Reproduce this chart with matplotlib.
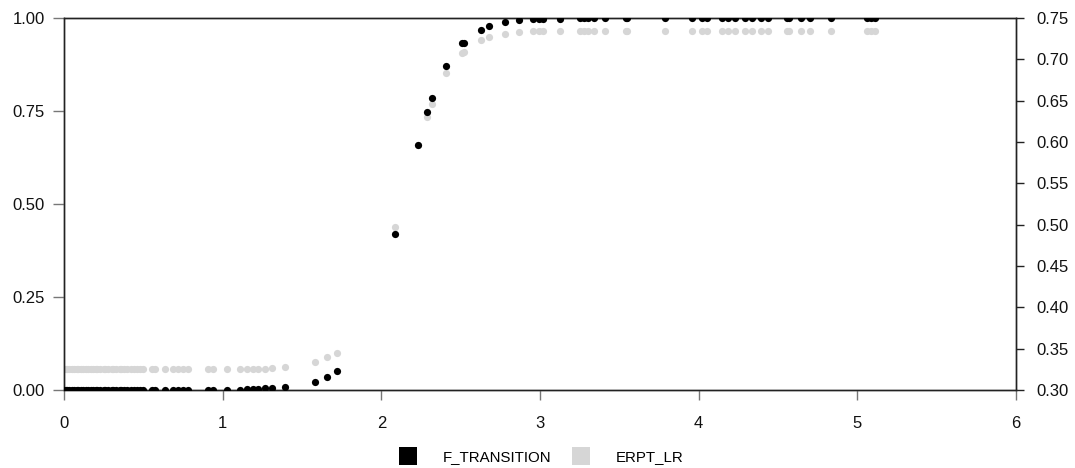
import matplotlib.pyplot as plt
from matplotlib.lines import Line2D

plt.rcParams['font.family'] = ['Liberation Sans', 'DejaVu Sans']

# threshold variable (x) and the two series
x_low = [
    0.00, 0.01, 0.02, 0.03, 0.05, 0.06, 0.08, 0.09, 0.11, 0.12,
    0.14, 0.15, 0.17, 0.18, 0.20, 0.21, 0.23, 0.25, 0.26, 0.28,
    0.30, 0.31, 0.33, 0.35, 0.36, 0.38, 0.40, 0.42, 0.44, 0.46,
    0.48, 0.50, 0.555, 0.573, 0.636, 0.687, 0.718, 0.750, 0.781,
    0.907, 0.939, 1.027, 1.109, 1.153, 1.191, 1.222, 1.267, 1.311,
    1.392, 1.58, 1.66, 1.72,
]
f_low = [
    0.0, 0.0, 0.0, 0.0, 0.0, 0.0, 0.0, 0.0, 0.0, 0.0,
    0.0, 0.0, 0.0, 0.0, 0.0, 0.0, 0.0, 0.0, 0.0, 0.0,
    0.0, 0.0, 0.0, 0.0, 0.0, 0.0, 0.0, 0.0, 0.0, 0.0,
    0.0, 0.0, 0.0, 0.0, 0.0, 0.0, 0.0, 0.0, 0.0,
    0.0, 0.0, 0.001, 0.001, 0.002, 0.003, 0.004, 0.005, 0.006,
    0.008, 0.021, 0.035, 0.051,
]
e_low = [
    0.325, 0.325, 0.325, 0.325, 0.325, 0.325, 0.325, 0.325, 0.325, 0.325,
    0.325, 0.325, 0.325, 0.325, 0.325, 0.325, 0.325, 0.325, 0.325, 0.325,
    0.325, 0.325, 0.325, 0.325, 0.325, 0.325, 0.325, 0.325, 0.325, 0.325,
    0.325, 0.325, 0.325, 0.325, 0.325, 0.325, 0.325, 0.325, 0.325,
    0.325, 0.325, 0.325, 0.325, 0.325, 0.325, 0.326, 0.326, 0.327,
    0.328, 0.334, 0.340, 0.345,
]

x_high = [
    2.086, 2.233, 2.289, 2.319, 2.409, 2.506, 2.52, 2.628, 2.680,
    2.779, 2.869, 2.955, 2.995, 3.016, 3.129, 3.251, 3.277, 3.304,
    3.340, 3.409, 3.541, 3.55, 3.787, 3.955, 4.018, 4.05, 4.144,
    4.186, 4.228, 4.291, 4.333, 4.396, 4.438, 4.554, 4.571, 4.648,
    4.701, 4.831, 5.058, 5.083, 5.11,
]
f_high = [
    0.4185, 0.659, 0.7465, 0.784, 0.871, 0.932, 0.934, 0.969, 0.979,
    0.989, 0.994, 0.996, 0.997, 0.997, 0.998, 0.999, 0.999, 0.999,
    0.999, 1.0, 1.0, 1.0, 1.0, 1.0, 1.0, 1.0, 1.0,
    1.0, 1.0, 1.0, 1.0, 1.0, 1.0, 1.0, 1.0, 1.0,
    1.0, 1.0, 1.0, 1.0, 1.0,
]
e_high = [
    0.497, 0.596, 0.630, 0.646, 0.683, 0.708, 0.709, 0.723, 0.727,
    0.731, 0.733, 0.734, 0.734, 0.734, 0.734, 0.734, 0.734, 0.734,
    0.734, 0.734, 0.734, 0.734, 0.734, 0.734, 0.734, 0.734, 0.734,
    0.734, 0.734, 0.734, 0.734, 0.734, 0.734, 0.734, 0.734, 0.734,
    0.734, 0.734, 0.734, 0.734, 0.734,
]

x_vals = x_low + x_high
f_transition = f_low + f_high
erpt_lr = e_low + e_high

left_ticks = [0.0, 0.25, 0.5, 0.75, 1.0]
right_ticks = [0.30, 0.35, 0.40, 0.45, 0.50, 0.55, 0.60, 0.65, 0.70, 0.75]
x_ticks = [0, 1, 2, 3, 4, 5, 6]

black = '#000000'
grey = '#d6d6d6'

fig = plt.figure(figsize=(10.75, 4.68), dpi=100)
ax = fig.add_axes([64 / 1075, 1 - 390 / 468, (1016 - 64) / 1075, (390 - 18) / 468])
ax2 = ax.twinx()

ax2.plot(x_vals, erpt_lr, 'o', color=grey, markersize=5.2, markeredgewidth=0, zorder=2)
ax.plot(x_vals, f_transition, 'o', color=black, markersize=5.2, markeredgewidth=0, zorder=3)
ax.set_zorder(ax2.get_zorder() + 1)
ax.patch.set_visible(False)

ax.set_xlim(0, 6)
ax.set_ylim(0, 1)
ax2.set_ylim(0.30, 0.75)
ax.set_xticks(x_ticks)
ax.set_xticklabels([str(t) for t in x_ticks])
ax.set_yticks(left_ticks)
ax.set_yticklabels([f'{t:.2f}' for t in left_ticks])
ax2.set_yticks(right_ticks)
ax2.set_yticklabels([f'{t:.2f}' for t in right_ticks])

for a in (ax, ax2):
    for s in a.spines.values():
        s.set_color('#222222')
        s.set_linewidth(1.0)
    a.tick_params(labelsize=12, width=1.0, color='#777777', labelcolor='#111111')
ax.tick_params(axis='x', length=7, pad=12)
ax.tick_params(axis='y', length=8, pad=6)
ax2.tick_params(axis='y', length=6, pad=8.5, color='#222222')

handles = [
    Line2D([], [], marker='s', linestyle='none', markersize=13,
           markerfacecolor=black, markeredgewidth=0, label='F_TRANSITION'),
    Line2D([], [], marker='s', linestyle='none', markersize=13,
           markerfacecolor=grey, markeredgewidth=0, label='ERPT_LR'),
]
fig.legend(handles=handles, loc='center', bbox_to_anchor=(541 / 1075, 1 - 457 / 468),
           ncol=2, frameon=False, fontsize=10.8, handlelength=1.2,
           handletextpad=1.7, columnspacing=1.4)

fig.savefig('out.png', dpi=100)
